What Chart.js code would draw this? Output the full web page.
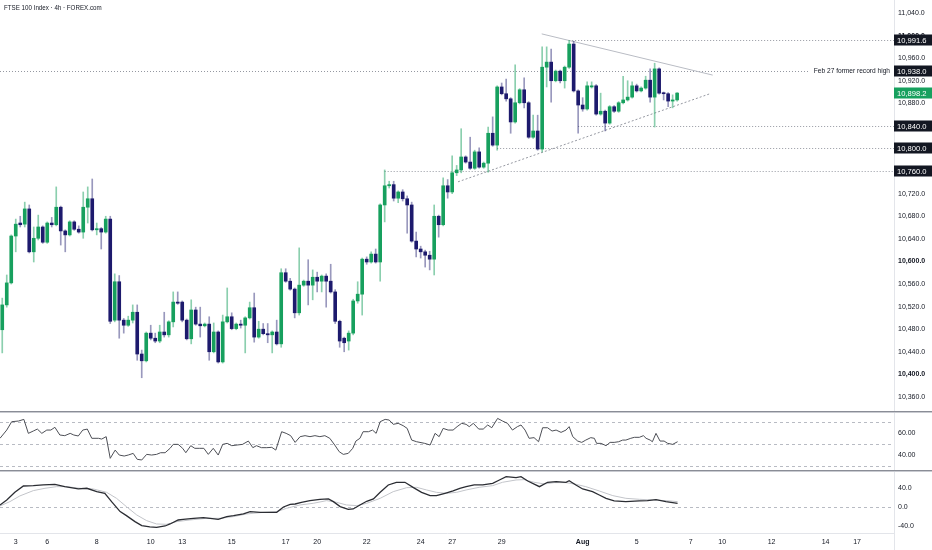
<!DOCTYPE html>
<html>
<head>
<meta charset="utf-8">
<script src="https://cdn.jsdelivr.net/npm/chart.js@4.4.1/dist/chart.umd.min.js"></script>
<style>
  body { margin: 0; background: #fff; }
  #wrap { position: relative; width: 932px; height: 550px; overflow: hidden; font-family: "Liberation Sans", Arial, sans-serif; }
  .pane { position: absolute; left: 0; width: 932px; }
  #mainPane { top: 0; height: 411px; }
  #rsiPane { top: 413px; height: 57px; }
  #oscPane { top: 472px; height: 78px; }
  .sep { position: absolute; left: 0; width: 932px; height: 1px; background: #8a8d96; border-bottom: 1px solid #c9cbd1; }
  #axisLine { position: absolute; left: 894px; top: 0; width: 1px; height: 550px; background: #e3e5ea; }
  #title { position: absolute; left: 4px; top: 4px; font-size: 7.4px; line-height: 1; color: #131722; white-space: nowrap;
           transform: scaleX(0.84); transform-origin: left top; }
</style>
</head>
<body>
<div id="wrap">
  <div id="axisLine"></div>
  <div class="pane" id="mainPane"><canvas id="main"></canvas></div>
  <div class="sep" style="top:411px"></div>
  <div class="pane" id="rsiPane"><canvas id="rsi"></canvas></div>
  <div class="sep" style="top:470px"></div>
  <div class="pane" id="oscPane"><canvas id="osc"></canvas></div>
  <div id="title">FTSE 100 Index · 4h · FOREX.com</div>
</div>
<script>
// 4h candles
const opens = [10479,10523,10562,10645,10668,10666,10693,10617,10641,10661,
  10634,10668,10665,10696,10654,10647,10670,10657,10652,10696,
  10711,10656,10658,10652,10675,10496,10564,10496,10487,10496,
  10510,10436,10424,10473,10464,10459,10475,10470,10493,10528,
  10528,10496,10463,10514,10489,10486,10489,10440,10475,10422,
  10493,10502,10481,10489,10487,10500,10518,10466,10480,10472,
  10470,10475,10454,10580,10565,10551,10509,10558,10565,10558,
  10572,10565,10574,10565,10546,10494,10464,10459,10473,10530,
  10542,10604,10599,10613,10599,10700,10734,10736,10712,10723,
  10711,10700,10636,10622,10617,10611,10604,10680,10665,10734,
  10723,10757,10762,10785,10776,10765,10794,10767,10774,10827,
  10806,10909,10897,10888,10847,10881,10904,10881,10820,10831,
  10799,10944,10953,10920,10937,10920,10944,10985,10902,10877,
  10870,10909,10911,10861,10866,10845,10874,10866,10881,10886,
  10891,10911,10902,10907,10921,10891,10941,10898,10897,10884,
  10886];
const highs = [10535,10576,10647,10675,10680,10705,10700,10661,10682,10663,
  10670,10678,10732,10698,10656,10672,10672,10663,10723,10732,
  10746,10668,10660,10680,10680,10578,10575,10499,10503,10523,
  10523,10443,10475,10487,10473,10487,10510,10495,10546,10546,
  10530,10498,10532,10519,10519,10491,10502,10491,10477,10505,
  10553,10509,10491,10496,10502,10528,10544,10494,10490,10490,
  10477,10496,10587,10587,10570,10553,10624,10567,10603,10585,
  10581,10576,10578,10595,10550,10496,10466,10477,10533,10564,
  10606,10608,10617,10622,10702,10762,10742,10742,10725,10727,
  10716,10705,10652,10627,10620,10618,10700,10682,10748,10745,
  10787,10770,10835,10787,10820,10797,10801,10776,10838,10856,
  10911,10916,10923,10890,10948,10906,10925,10883,10859,10859,
  10980,10980,10976,10939,10939,10946,10991.6,10990,10904,10890,
  10918,10918,10913,10898,10868,10876,10876,10883,10928,10920,
  10918,10914,10909,10928,10941,10951,10943,10900,10899,10895,
  10899];
const lows = [10438,10519,10560,10617,10661,10661,10615,10599,10638,10632,
  10632,10661,10663,10629,10617,10645,10655,10650,10641,10668,
  10654,10647,10622,10650,10490,10493,10464,10473,10485,10491,
  10425,10394,10422,10461,10456,10456,10466,10466,10484,10524,
  10493,10461,10454,10487,10466,10484,10425,10438,10420,10420,
  10491,10479,10479,10482,10438,10498,10457,10464,10470,10456,
  10438,10452,10448,10563,10549,10500,10505,10556,10523,10532,
  10546,10546,10519,10544,10490,10448,10440,10443,10470,10526,
  10505,10595,10597,10597,10565,10670,10730,10707,10704,10707,
  10650,10634,10608,10606,10590,10585,10576,10643,10663,10712,
  10720,10752,10757,10774,10763,10763,10765,10765,10758,10804,
  10797,10895,10884,10827,10845,10879,10872,10818,10818,10797,
  10794,10909,10882,10918,10916,10907,10942,10900,10827,10866,
  10868,10907,10859,10859,10831,10843,10864,10864,10879,10884,
  10889,10900,10900,10905,10882,10838,10896,10886,10874,10872,
  10884];
const closes = [10523,10562,10645,10666,10665,10693,10617,10641,10661,10634,
  10668,10665,10696,10654,10647,10670,10657,10652,10696,10711,
  10656,10658,10652,10675,10494,10564,10496,10487,10496,10510,
  10436,10424,10473,10464,10459,10475,10470,10493,10528,10526,
  10496,10463,10514,10489,10486,10489,10440,10475,10422,10493,
  10502,10481,10489,10487,10500,10518,10466,10480,10472,10470,
  10475,10454,10580,10565,10551,10509,10558,10565,10558,10572,
  10565,10574,10565,10546,10494,10459,10456,10473,10530,10542,
  10604,10599,10613,10599,10700,10734,10736,10712,10723,10711,
  10700,10636,10622,10617,10611,10604,10680,10665,10734,10723,
  10757,10762,10785,10776,10765,10794,10767,10774,10827,10806,
  10909,10897,10888,10847,10881,10904,10881,10820,10831,10799,
  10944,10953,10920,10937,10920,10944,10985,10902,10877,10870,
  10911,10911,10861,10866,10845,10874,10866,10881,10886,10891,
  10911,10902,10907,10921,10891,10941,10898,10897,10884,10886,
  10898.2];

// RSI, sampled along the line (x = candle number)
const rsiX = [-0.5,1,2.1,3.6,4.8,5.8,6.9,7.8,8.8,9.9,10.8,11.7,12.8,13.9,15.1,15.9,16.9,17.9,18.9,19.9,
  21.4,22.1,23.1,24,25.1,26,27.1,28,29.1,30,31,32.1,33.2,34.3,35.2,36.2,37.3,38,39.1,40.1,
  40.8,41.9,42.8,43.9,44.8,45.8,46.9,48,49,50,51,52.2,53.4,54.7,55.7,56.5,57.6,58.8,59.9,60.8,
  62.1,63.1,64.1,65.1,66.2,67.3,68.4,69.5,70.6,71.7,72.8,73.9,74.9,75.8,76.9,77.9,78.6,79.5,80.2,81.4,
  82.3,83.1,84,85.1,86,86.9,88,89.1,90,91,92.1,93.9,95.1,96.2,97.1,98,99.1,100.2,101.1,102.1,103.1,
  103.8,104.7,105.9,106.9,107.9,108.8,110.1,111.2,112.3,113.4,114.5,115.3,116.2,117.1,118.2,119.2,120.1,121.2,122.2,123.1,
  124.2,125.3,126,126.8,127.9,128.8,129.7,130.8,131.6,132.1,133.1,134.2,135.1,136,137,137.9,138.6,139.7,140.5,141.6,
  142.5,143.1,144,144.5,145.3,146.2,147.1,147.9,149,150.1];
const rsiVals = [55.2,62.7,70.3,70.9,72.4,59.7,61.8,63.6,59.7,62.7,62.7,65.2,58.2,57.6,59.7,58.2,57.3,62.7,63.6,55.2,
  55.2,54.5,56.7,37,44.5,40,39.1,40,41.5,36.1,35.5,40.6,40,40.6,42.1,42.1,46.1,49.7,49.7,46.1,
  42.1,48.5,46.1,46.1,46.1,40.6,46.1,40,49.7,50.6,48.5,49.1,49.7,52.7,46.7,48.5,46.7,46.7,47,44.5,
  61.2,59.7,57.6,51.5,56.7,57.6,56.7,57.6,56.7,57.6,55.2,49.1,43,40.6,41.5,46.1,52.7,55.2,61.2,61.2,
  62.7,59.7,70.3,72.4,71.8,67.9,68.8,66.7,64.2,53.6,52.1,50.6,49.1,59.7,56.7,64.2,62.7,62.7,65.8,68.8,67.9,
  65.8,68.8,63.6,63.6,67.3,64.8,73.3,70.9,68.8,62.7,65.8,67.3,62.7,55.2,55.8,52.1,64.8,64.8,61.8,62.7,
  60.6,62.7,65.8,56.7,52.7,51.5,53.6,55.8,55.2,50.6,50.6,48.5,51.5,51.5,52.1,53.6,53.6,55.2,56.1,56.1,
  57.6,55.2,53.6,52.1,59.7,52.7,52.7,50.6,49.7,52.1];

// lower oscillator: main line and signal line
const oscX = [-0.5,1,2.8,4.7,6.9,9.1,11.7,13.9,16.9,18.8,21,22.8,24.3,26.2,27.6,29.5,31,32.8,34.3,36.2,
  37.3,39.1,40.2,42.5,44.7,46.2,48,49.9,51.4,53.6,55.1,57.3,61,62.5,64,65.1,66.5,68.4,70.6,72.5,
  73.6,75.1,76.9,78,79.5,81,82.5,84,85.8,87.6,89.5,91.4,93.2,95.1,96.5,98.4,100.2,101.7,103.1,104.9,
  106.8,109,110.5,112,114.2,115.3,116.8,119.4,121.2,123.1,125.3,126,127.5,129,131.2,132.7,134.2,136,138.6,141.6,
  143.4,145.3,147.5,149,150.1];
const oscVals = [4.9,15.3,31.2,44.4,45.1,46.5,47.9,43,38.2,39.6,32.6,29.1,11.8,-9,-17.4,-29.8,-38.2,-40.9,-41.6,-38.9,
  -34.7,-26.4,-25,-22.9,-21.5,-22.9,-25,-19.4,-17.4,-13.9,-9,-10.4,-10.4,0.7,6.2,6.9,10.4,13.9,16.7,17.4,
  11.8,1.4,-4.2,-3.5,4.9,12.5,17.4,31.2,46.5,52.1,52.1,40.9,31.2,24.3,24.3,29.1,34,39.6,43,46.5,
  46.5,50,56.9,63.8,61.8,63.8,54.8,43,52.1,53.4,52.1,55.5,46.5,38.2,32.6,25.7,18.7,13.2,11.8,13.2,
  13.9,16,11.8,9.7,8.3];
const sigX = [-0.5,1.7,3.9,6.9,9.5,12.1,14.3,17.3,20.2,23.2,25.4,27.6,29.9,32.1,34.3,36.5,38.8,41.7,45.4,48.4,
  51.4,54.3,57.3,61,63.2,66.2,69.1,72.1,74.3,76.5,78.8,81,84,86.9,89.9,92.1,94.3,96.5,98.8,101,
  103.1,106,109,111.2,114.2,116,118.2,120.5,122.7,125.3,127.5,129.7,132.7,135.7,138.6,141.6,144.5,147.5,150.1];
const sigVals = [2.8,11.8,23.6,34.7,39.6,43,43,39.6,38.2,31.2,18.7,1.4,-16,-27.8,-34.7,-35.4,-29.8,-26.4,-22.9,-22.9,
  -19.4,-13.9,-11.1,-9,-2.1,4.9,8.3,13.9,10.4,4.9,3.5,8.3,18.7,32.6,40.9,41.6,36.1,31.2,29.1,31.2,
  36.1,41.6,45.1,52.1,56.9,57.6,52.1,48.6,51.4,51.4,47.9,43,34,24.3,18.7,16.7,15.3,13.9,11.8];

// horizontal levels and where each one starts (candle number)
const levels = [10991.6, 10938.0, 10840.0, 10800.0, 10760.0];
const levelStarts = [126, -0.5, 128, 110, 85];
const levelNote = 'Feb 27 former record high';
const lastPrice = 10898.2;

// triangle lines: [candle, price] ends
const upperTrendX = [119.9, 157.9];
const upperTrendY = [11003, 10930];
const lowerTrendX = [101.3, 157.3];
const lowerTrendY = [10741, 10897];

// axis ticks
const priceTicks = [10360,10400,10440,10480,10520,10560,10600,10640,10680,10720,10760,10800,10840,10880,10920,10960,11000,11040];
const boldPriceTicks = [10400, 10600, 10800, 11000];
const rsiTicks = [40, 60];
const oscTicks = [-40, 0, 40];
const dateTickPos = [3,10,21,33,40,51,63,70,81,93,100,111,129,141,153,160,171,183,190];
const dateTickLabels = ['3','6','8','10','13','15','17','20','22','24','27','29','Aug','5','7','10','12','14','17'];

const UP = '#17a05e', DOWN = '#1d1a6d';
const UP_WICK = 'rgba(23,160,94,0.5)', DOWN_WICK = 'rgba(29,26,109,0.45)';
const X_MIN = -0.5, X_MAX = 198.2;
const AXIS_W = 38;

Chart.defaults.font.family = '"Liberation Sans", Arial, sans-serif';
Chart.defaults.color = '#131722';

const fmt = (v, d) => {
  const parts = Math.abs(v).toFixed(d).split('.');
  const whole = parts[0].replace(/\B(?=(\d{3})+(?!\d))/g, ',');
  return (v < 0 ? '-' : '') + whole + (parts[1] ? '.' + parts[1] : '');
};

const rightAxis = (min, max, ticks, digits, bold) => ({
  position: 'right', min, max,
  grid: { display: false, drawTicks: false },
  border: { display: false },
  afterBuildTicks: s => { s.ticks = ticks.map(v => ({ value: v })); },
  afterFit: s => { s.width = AXIS_W; s.paddingTop = 0; s.paddingBottom = 0; },
  ticks: {
    padding: 4, autoSkip: false, color: '#131722',
    font: c => ({ size: 7, weight: bold && c.tick && bold.includes(c.tick.value) ? 'bold' : 'normal' }),
    callback: v => fmt(v, digits)
  }
});

const hiddenX = { type: 'linear', min: X_MIN, max: X_MAX, display: false, offset: false };

const baseOptions = {
  responsive: true, maintainAspectRatio: false, animation: false, events: [],
  layout: { padding: 0 },
  plugins: { legend: { display: false }, tooltip: { enabled: false } }
};

const candleIdx = closes.map((_, i) => i);
const isUp = candleIdx.map(i => closes[i] >= opens[i]);

const levelPlugin = {
  id: 'levels',
  beforeDatasetsDraw(chart) {
    const { ctx, chartArea: a, scales: { x, y } } = chart;
    ctx.save();
    ctx.strokeStyle = '#9598a1';
    ctx.lineWidth = 1;
    ctx.setLineDash([1, 2]);
    levels.forEach((v, k) => {
      const py = Math.round(y.getPixelForValue(v)) + 0.5;
      ctx.beginPath();
      ctx.moveTo(Math.max(a.left, x.getPixelForValue(levelStarts[k])), py);
      ctx.lineTo(a.right, py);
      ctx.stroke();
    });
    ctx.restore();
  },
  afterDraw(chart) {
    const { ctx, chartArea: a, scales: { y } } = chart;
    ctx.save();
    ctx.font = '6.6px "Liberation Sans", Arial, sans-serif';
    ctx.textBaseline = 'middle';
    // note on the old record high
    const ny = y.getPixelForValue(levels[1]);
    const tw = ctx.measureText(levelNote).width;
    ctx.fillStyle = '#fff';
    ctx.fillRect(a.right - tw - 8, ny - 5, tw + 6, 10);
    ctx.fillStyle = '#131722';
    ctx.textAlign = 'right';
    ctx.fillText(levelNote, a.right - 4, ny + 0.5);
    // price boxes on the axis
    ctx.textAlign = 'left';
    ctx.font = '7.6px "Liberation Sans", Arial, sans-serif';
    const box = (v, bg) => {
      const py = Math.round(y.getPixelForValue(v));
      ctx.fillStyle = bg;
      ctx.fillRect(a.right, py - 5.5, AXIS_W, 11);
      ctx.fillStyle = '#fff';
      ctx.fillText(fmt(v, 1), a.right + 3, py + 0.5);
    };
    levels.forEach(v => box(v, '#131722'));
    box(lastPrice, UP);
    ctx.restore();
  }
};

new Chart(document.getElementById('main'), {
  type: 'bar',
  data: {
    datasets: [
      {
        label: 'body', order: 0, grouped: false, barThickness: 3, minBarLength: 1, borderWidth: 0,
        data: candleIdx.map(i => ({ x: i, y: [opens[i], closes[i]] })),
        backgroundColor: candleIdx.map(i => isUp[i] ? UP : DOWN)
      },
      {
        label: 'wick', order: 1, grouped: false, barThickness: 1, borderWidth: 0,
        data: candleIdx.map(i => ({ x: i, y: [lows[i], highs[i]] })),
        backgroundColor: candleIdx.map(i => isUp[i] ? UP_WICK : DOWN_WICK)
      },
      {
        type: 'line', label: 'upper', order: 2,
        data: upperTrendX.map((x, k) => ({ x, y: upperTrendY[k] })),
        borderColor: '#b9bcc4', borderWidth: 1, pointRadius: 0
      },
      {
        type: 'line', label: 'lower', order: 2,
        data: lowerTrendX.map((x, k) => ({ x, y: lowerTrendY[k] })),
        borderColor: '#9598a1', borderWidth: 1, borderDash: [2, 2], pointRadius: 0
      }
    ]
  },
  options: {
    ...baseOptions,
    scales: {
      x: hiddenX,
      y: rightAxis(10335.1, 11063, priceTicks, 1, boldPriceTicks)
    }
  },
  plugins: [levelPlugin]
});

const guidePlugin = (values) => ({
  id: 'guides',
  beforeDatasetsDraw(chart) {
    const { ctx, chartArea: a, scales: { y } } = chart;
    ctx.save();
    ctx.strokeStyle = '#b8bbc3';
    ctx.lineWidth = 1;
    ctx.setLineDash([3, 3]);
    values.forEach(v => {
      const py = Math.round(y.getPixelForValue(v)) + 0.5;
      ctx.beginPath();
      ctx.moveTo(a.left, py);
      ctx.lineTo(a.right, py);
      ctx.stroke();
    });
    ctx.restore();
  }
});

new Chart(document.getElementById('rsi'), {
  type: 'line',
  data: {
    datasets: [{
      data: rsiX.map((x, k) => ({ x, y: rsiVals[k] })),
      borderColor: '#4d4f56', borderWidth: 1, pointRadius: 0, tension: 0
    }]
  },
  options: {
    ...baseOptions,
    scales: { x: hiddenX, y: rightAxis(26.4, 78.2, rsiTicks, 2) }
  },
  plugins: [guidePlugin([30, 50, 70])]
});

new Chart(document.getElementById('osc'), {
  type: 'line',
  data: {
    datasets: [
      {
        data: oscX.map((x, k) => ({ x, y: oscVals[k] })),
        borderColor: '#2b2d33', borderWidth: 1.3, pointRadius: 0, tension: 0
      },
      {
        data: sigX.map((x, k) => ({ x, y: sigVals[k] })),
        borderColor: '#c3c5ca', borderWidth: 1, pointRadius: 0, tension: 0
      }
    ]
  },
  options: {
    ...baseOptions,
    scales: {
      x: {
        type: 'linear', min: X_MIN, max: X_MAX, offset: false,
        grid: { display: false, drawTicks: false },
        border: { display: true, color: '#e3e5ea' },
        afterBuildTicks: s => { s.ticks = dateTickPos.map(v => ({ value: v })); },
        afterFit: s => { s.height = 17; s.paddingLeft = 0; s.paddingRight = 0; },
        ticks: {
          padding: 5, autoSkip: false, maxRotation: 0, color: '#131722',
          font: c => ({ size: 7, weight: c.index === 12 ? 'bold' : 'normal' }),
          callback: (v, i) => dateTickLabels[i]
        }
      },
      y: rightAxis(-53.5, 73.5, oscTicks, 1)
    }
  },
  plugins: [guidePlugin([0])]
});
</script>
</body>
</html>
